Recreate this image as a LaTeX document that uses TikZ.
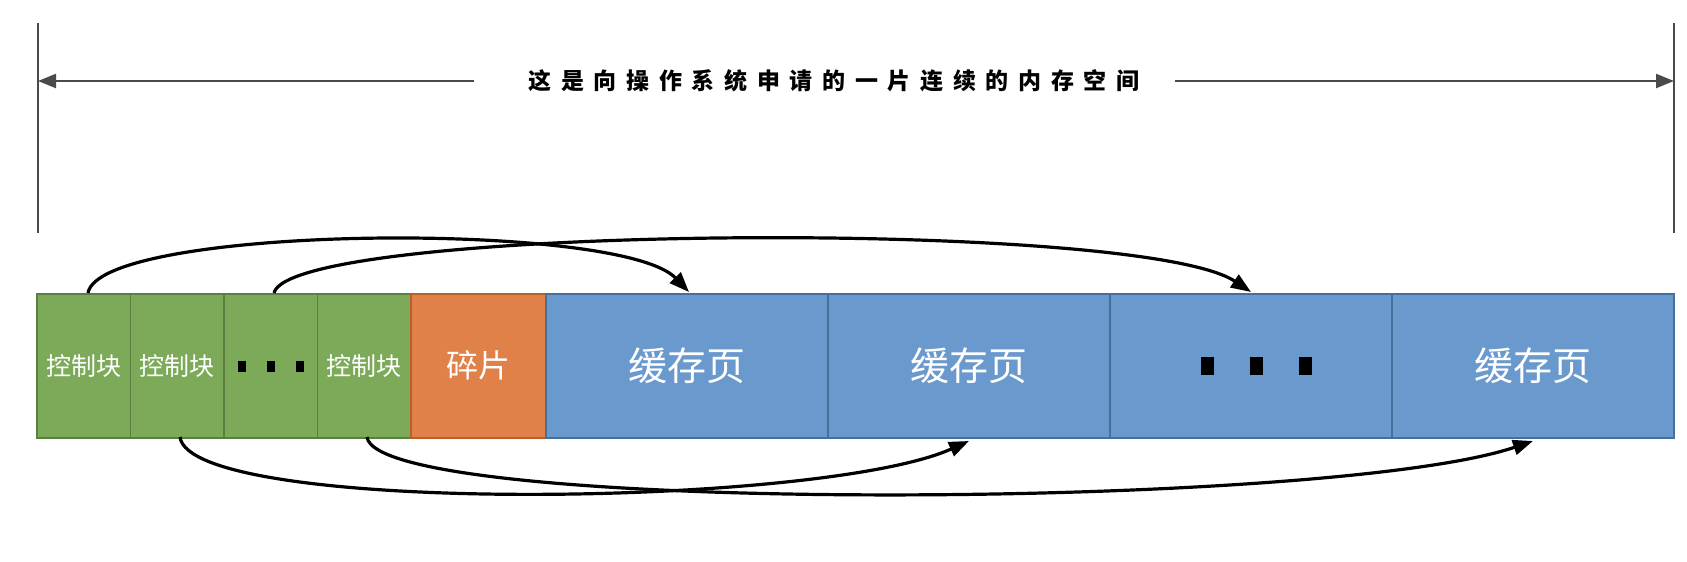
\documentclass[tikz,border=0pt]{standalone}
\usepackage{fontspec}
\newfontfamily\cjk{Noto Sans CJK SC}
\newfontfamily\cjkt[LetterSpace=42]{Noto Sans CJK SC}
\usetikzlibrary{arrows.meta}
\definecolor{gfill}{HTML}{7CAA58}
\definecolor{gline}{HTML}{5A8040}
\definecolor{ofill}{HTML}{DF8149}
\definecolor{oline}{HTML}{B85F2A}
\definecolor{bfill}{HTML}{6A99CD}
\definecolor{bline}{HTML}{46709C}
\definecolor{dim}{HTML}{4A4A4A}
\tikzset{
  cell/.style={draw, line width=1.5pt, minimum height=144pt, inner sep=0pt, anchor=north west, text=white},
  gbox/.style={cell, fill=gfill, draw=gline, minimum width=93.5pt, font=\cjk\fontsize{25}{25}\selectfont},
  obox/.style={cell, fill=ofill, draw=oline, minimum width=135pt, font=\cjk\fontsize{32}{32}\selectfont},
  bbox/.style={cell, fill=bfill, draw=bline, minimum width=282pt, font=\cjk\fontsize{39}{39}\selectfont},
  sq/.style={fill=black, inner sep=0pt},
  dimline/.style={draw=dim, line width=2.2pt},
  dimarrow/.style={dimline, -{Triangle[length=18pt,width=14pt]}},
  link/.style={draw=black, line width=3.2pt, -{Triangle[length=20pt,width=15pt]}},
}
\begin{document}
\begin{tikzpicture}[x=1pt,y=-1pt]
\useasboundingbox (0,0) rectangle (1687,562);
% dimension
\coordinate (lt) at (38,23);
\coordinate (lb) at (38,233);
\coordinate (rt) at (1674,23);
\coordinate (rb) at (1674,233);
\coordinate (la) at (38,81);
\coordinate (ra) at (1674,81);
\coordinate (ls) at (474,81);
\coordinate (rs) at (1175,81);
\draw[dimline] (lt) -- (lb);
\draw[dimline] (rt) -- (rb);
\node[font=\cjkt\bfseries\fontsize{23}{23}\selectfont, inner sep=0pt] (title) at (834,81) {这是向操作系统申请的一片连续的内存空间};
\draw[dimarrow] (ls) -- (la);
\draw[dimarrow] (rs) -- (ra);
% cells
\node[gbox] (g1) at (36,293) {控制块};
\node[gbox] (g2) at (129.5,293) {控制块};
\node[gbox] (g3) at (223,293) {};
\node[gbox] (g4) at (316.5,293) {控制块};
\node[obox] (o1) at (410,293) {碎片};
\node[bbox] (b1) at (545,293) {缓存页};
\node[bbox] (b2) at (827,293) {缓存页};
\node[bbox] (b3) at (1109,293) {};
\node[bbox] (b4) at (1391,293) {缓存页};
% dots
\node[sq, minimum width=8pt, minimum height=11pt] (gd1) at (242,366) {};
\node[sq, minimum width=8pt, minimum height=11pt] (gd2) at (271,366) {};
\node[sq, minimum width=8pt, minimum height=11pt] (gd3) at (300,366) {};
\node[sq, minimum width=13pt, minimum height=18pt] (bd1) at (1207,366) {};
\node[sq, minimum width=13pt, minimum height=18pt] (bd2) at (1256,366) {};
\node[sq, minimum width=13pt, minimum height=18pt] (bd3) at (1305,366) {};
% links
\coordinate (s1) at (88,293);
\coordinate (e1) at (689,292);
\coordinate (s2) at (274,293);
\coordinate (e2) at (1251,292);
\coordinate (s3) at (180,437);
\coordinate (e3) at (969,441);
\coordinate (s4) at (367,437);
\coordinate (e4) at (1533,441);
\draw[link] (s1) .. controls (100,225) and (620,220) .. (e1);
\draw[link] (s2) .. controls (290,225) and (1140,218) .. (e2);
\draw[link] (s3) .. controls (190,515) and (820,508) .. (e3);
\draw[link] (s4) .. controls (377,515) and (1330,510) .. (e4);
\end{tikzpicture}
\end{document}
